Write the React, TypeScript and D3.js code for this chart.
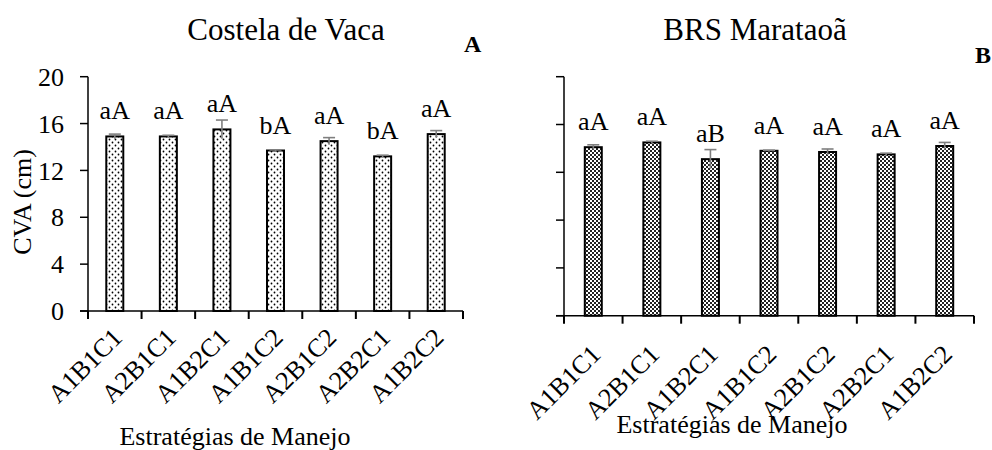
import React from "react";
import * as d3 from "d3";

// Management strategies (same order in both panels)
const strategies = ["A1B1C1", "A2B1C1", "A1B2C1", "A1B1C2", "A2B1C2", "A2B2C1", "A1B2C2"];

// Costela de Vaca: mean CVA (cm), standard error, significance letters
const costelaMeans = [14.9, 14.9, 15.5, 13.7, 14.5, 13.2, 15.1];
const costelaErr = [0.2, 0.1, 0.8, 0.05, 0.3, 0.1, 0.3];
const costelaLetters = ["aA", "aA", "aA", "bA", "aA", "bA", "aA"];

// BRS Marataoã: mean CVA (cm), standard error, significance letters
const marataoaMeans = [14.1, 14.5, 13.1, 13.8, 13.7, 13.5, 14.2];
const marataoaErr = [0.2, 0.1, 0.8, 0.05, 0.25, 0.1, 0.3];
const marataoaLetters = ["aA", "aA", "aB", "aA", "aA", "aA", "aA"];

const yTicks = [0, 4, 8, 12, 16, 20];

const FONT = "'Liberation Serif', 'DejaVu Serif', serif";

type PanelProps = {
  title: string;
  tag: string;
  means: number[];
  errs: number[];
  letters: string[];
  x0: number;
  x1: number;
  yBottom: number;
  yTop: number;
  fill: string;
  showYLabels: boolean;
  titleX: number;
  tagX: number;
  tagY: number;
  xTitleX: number;
  xTitleY: number;
  labelDx: number;
  labelDy: number;
};

function Panel(p: PanelProps) {
  const x = d3.scaleBand<string>().domain(strategies).range([p.x0, p.x1]).padding(0);
  const y = d3.scaleLinear().domain([0, 20]).range([p.yBottom, p.yTop]);
  const barW = 17;
  const capW = 12;
  const boundaries = d3.range(strategies.length + 1).map((i) => p.x0 + i * x.step());

  return (
    <g fontFamily={FONT}>
      <text x={p.titleX} y={40} textAnchor="middle" fontSize={31}>
        {p.title}
      </text>
      <text x={p.tagX} y={p.tagY} fontSize={24} fontWeight="bold">
        {p.tag}
      </text>

      {/* bars */}
      {strategies.map((s, i) => {
        const cx = (x(s) as number) + x.bandwidth() / 2;
        return (
          <rect
            key={"b" + s}
            x={cx - barW / 2}
            y={y(p.means[i])}
            width={barW}
            height={p.yBottom - y(p.means[i])}
            fill={p.fill}
            stroke="#000"
            strokeWidth={2}
          />
        );
      })}

      {/* error bars */}
      {strategies.map((s, i) => {
        const cx = (x(s) as number) + x.bandwidth() / 2;
        const hi = y(p.means[i] + p.errs[i]);
        const lo = y(p.means[i] - p.errs[i]);
        return (
          <g key={"e" + s} stroke="#7f7f7f" strokeWidth={1.6}>
            <line x1={cx} x2={cx} y1={hi} y2={lo} />
            <line x1={cx - capW / 2} x2={cx + capW / 2} y1={hi} y2={hi} />
          </g>
        );
      })}

      {/* significance letters */}
      {strategies.map((s, i) => {
        const cx = (x(s) as number) + x.bandwidth() / 2;
        return (
          <text key={"l" + s} x={cx} y={y(p.means[i]) - 17} textAnchor="middle" fontSize={26}>
            {p.letters[i]}
          </text>
        );
      })}

      {/* y axis */}
      <line x1={p.x0} x2={p.x0} y1={p.yTop} y2={p.yBottom} stroke="#000" strokeWidth={1.5} />
      {yTicks.map((t) => (
        <g key={"yt" + t}>
          <line x1={p.x0 - 8} x2={p.x0} y1={y(t)} y2={y(t)} stroke="#000" strokeWidth={1.5} />
          {p.showYLabels && (
            <text x={p.x0 - 24} y={y(t)} dy="0.35em" textAnchor="end" fontSize={26}>
              {t}
            </text>
          )}
        </g>
      ))}

      {/* x axis */}
      <line x1={p.x0 - 8} x2={p.x1} y1={p.yBottom} y2={p.yBottom} stroke="#000" strokeWidth={1.5} />
      {boundaries.map((bx, i) => (
        <line key={"xt" + i} x1={bx} x2={bx} y1={p.yBottom} y2={p.yBottom + 8} stroke="#000" strokeWidth={2} />
      ))}
      {strategies.map((s) => {
        const cx = (x(s) as number) + x.bandwidth() / 2;
        return (
          <text
            key={"xl" + s}
            transform={`translate(${cx + p.labelDx},${p.yBottom + p.labelDy}) rotate(-45)`}
            textAnchor="end"
            fontSize={26}
          >
            {s}
          </text>
        );
      })}

      <text x={p.xTitleX} y={p.xTitleY} textAnchor="middle" fontSize={26}>
        Estratégias de Manejo
      </text>
    </g>
  );
}

export default function App() {
  return (
    <svg
      width={992}
      height={450}
      viewBox="0 0 992 450"
      style={{ position: "absolute", left: 0, top: 0, background: "#fff" }}
    >
      <defs>
        <pattern id="dots" width={6} height={6} patternUnits="userSpaceOnUse">
          <rect width={6} height={6} fill="#fff" />
          <circle cx={1.5} cy={1.5} r={0.9} fill="#000" />
          <circle cx={4.5} cy={4.5} r={0.9} fill="#000" />
        </pattern>
        <pattern id="checker" width={4} height={4} patternUnits="userSpaceOnUse">
          <rect width={4} height={4} fill="#fff" />
          <rect x={0} y={0} width={2} height={2} fill="#222" />
          <rect x={2} y={2} width={2} height={2} fill="#222" />
        </pattern>
      </defs>
      <rect width={992} height={450} fill="#fff" />

      <text
        transform="translate(31,202) rotate(-90)"
        textAnchor="middle"
        fontFamily={FONT}
        fontSize={26}
      >
        CVA (cm)
      </text>

      <Panel
        title="Costela de Vaca"
        tag="A"
        means={costelaMeans}
        errs={costelaErr}
        letters={costelaLetters}
        x0={88}
        x1={463}
        yBottom={311}
        yTop={76.7}
        fill="url(#dots)"
        showYLabels={true}
        titleX={286}
        tagX={464}
        tagY={52}
        xTitleX={235}
        xTitleY={445}
        labelDx={9}
        labelDy={28}
      />
      <Panel
        title="BRS Marataoã"
        tag="B"
        means={marataoaMeans}
        errs={marataoaErr}
        letters={marataoaLetters}
        x0={564}
        x1={974}
        yBottom={315.7}
        yTop={76.7}
        fill="url(#checker)"
        showYLabels={false}
        titleX={755}
        tagX={975}
        tagY={63}
        xTitleX={732}
        xTitleY={433}
        labelDx={9}
        labelDy={40}
      />
    </svg>
  );
}
